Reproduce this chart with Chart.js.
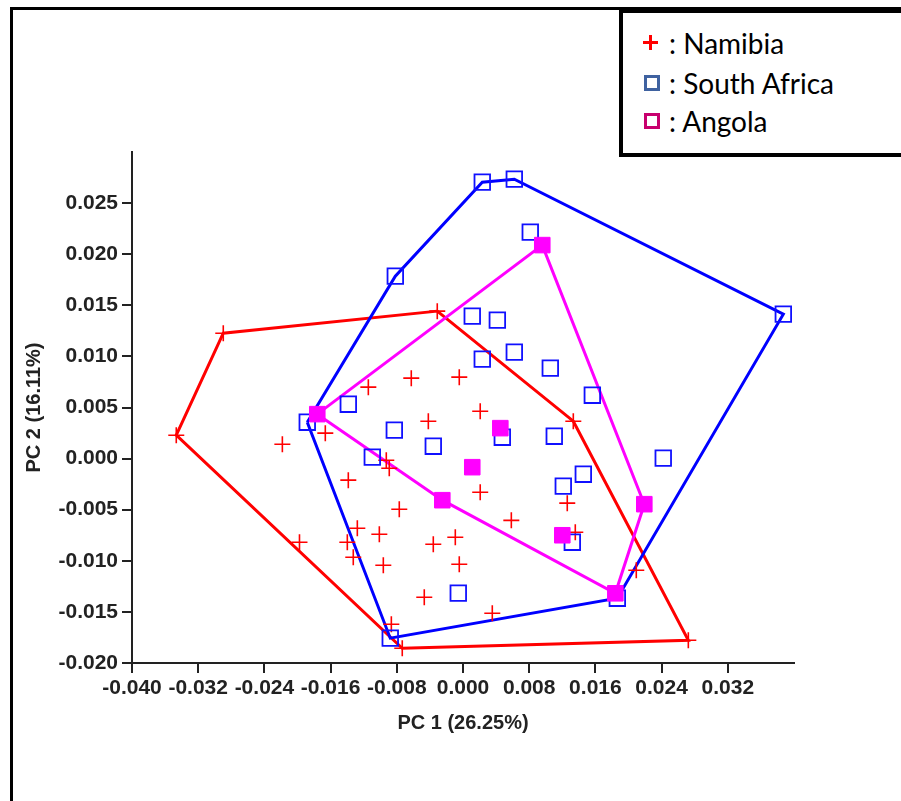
<!DOCTYPE html>
<html>
<head>
    <title>PCA</title>
    <meta charset="utf-8">
    <script src="https://cdn.jsdelivr.net/npm/chart.js@4.4.1/dist/chart.umd.min.js"></script>
    <style>
        body { margin: 0; background: #fff; overflow: hidden; width: 901px; height: 801px; position: relative; }
        #frame { position: absolute; left: 10px; top: 7px; width: 1000px; height: 1000px; border: 3px solid #000; }
        #pca { position: absolute; left: 0; top: 0; z-index: 1; }
        #legend { position: absolute; left: 619px; top: 9px; width: 400px; height: 140px; border: 4px solid #000; background: #fff; z-index: 2; }
        .row { position: absolute; left: 0; height: 40px; line-height: 40px; font-family: Lato, 'Open Sans', sans-serif; font-size: 28px; color: #000; }
        .row span.txt { position: absolute; left: 46px; white-space: nowrap; }
        .plus { position: absolute; left: 20px; top: 12px; width: 15px; height: 15px; }
        .plus:before { content: ''; position: absolute; left: 6px; top: 0; width: 3px; height: 15px; background: #ff0000; }
        .plus:after { content: ''; position: absolute; left: 0; top: 6px; width: 15px; height: 3px; background: #ff0000; }
        .sq { position: absolute; left: 21px; top: 12px; width: 16px; height: 16px; box-sizing: border-box; border: 3px solid #3f62a0; }
    </style>
</head>
<body>
<div id="frame"></div>
<canvas id="pca" width="901" height="801"></canvas>
<div id="legend">
    <div class="row" style="top:10px"><div class="plus"></div><span class="txt">: Namibia</span></div>
    <div class="row" style="top:50px"><div class="sq"></div><span class="txt">: South Africa</span></div>
    <div class="row" style="top:88px"><div class="sq" style="border-color:#c8006e"></div><span class="txt">: Angola</span></div>
</div>

<script>
// PC1 / PC2 scores
var namibiaX = [-0.00311, -0.02897, -0.03465, -0.00734, 0.02723, 0.01333,
    -0.01144, -0.00625, -0.00045, -0.00419, 0.00208, -0.01664, -0.02183, -0.00927,
    -0.00891, -0.01386, 0.00208, -0.00770, -0.01277, -0.01398, -0.01326, -0.01011,
    -0.00963, -0.00359, -0.00093, -0.00045, -0.00468, 0.00354, -0.00866, 0.00584,
    -0.01976, 0.01260, 0.01357, 0.02094];
var namibiaY = [0.01443, 0.01227, 0.00229, -0.01856, -0.01777, 0.00366,
    0.00699, 0.00787, 0.00797, 0.00366, 0.00464, 0.00249, 0.00141, -0.00016,
    -0.00094, -0.00211, -0.00329, -0.00495, -0.00681, -0.00818, -0.00965, -0.00740,
    -0.01044, -0.00838, -0.00769, -0.01034, -0.01357, -0.01513, -0.01621, -0.00604,
    -0.00818, -0.00436, -0.00720, -0.01092];

var southAfricaX = [-0.01882, -0.00818, 0.00233, 0.00620, 0.03871, 0.01865, -0.00879,
    0.00813, 0.00112, 0.00415, 0.00233, 0.00620, 0.01055, 0.01563, 0.00475, 0.01103,
    0.02420, 0.01454, 0.01212, 0.01321, -0.00057, -0.01386, -0.00830, -0.00359, -0.01096];
var southAfricaY = [0.00356, 0.01785, 0.02705, 0.02734, 0.01413, -0.01366, -0.01757,
    0.02216, 0.01394, 0.01355, 0.00974, 0.01042, 0.00885, 0.00620, 0.00209, 0.00219,
    0.00004, -0.00153, -0.00270, -0.00818, -0.01316, 0.00532, 0.00278, 0.00121, 0.00014];

var angolaX = [-0.01761, 0.00958, 0.02191, 0.01841, -0.00250, 0.00451, 0.00112, 0.01200];
var angolaY = [0.00435, 0.02089, -0.00446, -0.01318, -0.00407, 0.00298, -0.00084, -0.00750];

// convex hull vertices (indices into the arrays above)
var namibiaHull = [0, 5, 4, 3, 2, 1, 0];
var southAfricaHull = [0, 1, 2, 3, 4, 5, 6, 0];
var angolaHull = [0, 1, 2, 3, 4, 0];

var xTicks = [-0.040, -0.032, -0.024, -0.016, -0.008, 0.000, 0.008, 0.016, 0.024, 0.032];
var yTicks = [-0.020, -0.015, -0.010, -0.005, 0.000, 0.005, 0.010, 0.015, 0.020, 0.025];

function pts(xs, ys) {
    return xs.map(function (v, i) { return {x: v, y: ys[i]}; });
}
function hull(xs, ys, idx) {
    return idx.map(function (i) { return {x: xs[i], y: ys[i]}; });
}

var tickFont = {family: "'Liberation Sans', Arial, sans-serif", weight: 'bold', size: 21};
var titleFont = {family: "'Liberation Sans', Arial, sans-serif", weight: 'bold', size: 20};

new Chart(document.getElementById('pca'), {
    type: 'scatter',
    data: {
        datasets: [
            {data: pts(angolaX, angolaY), pointStyle: 'rect', pointRadius: 11,
                backgroundColor: '#ff00ff', borderColor: '#ff00ff', borderWidth: 1},
            {data: pts(southAfricaX, southAfricaY), pointStyle: 'rect', pointRadius: 11,
                backgroundColor: 'rgba(0,0,0,0)', borderColor: '#1010ff', borderWidth: 1.8},
            {data: pts(namibiaX, namibiaY), pointStyle: 'cross', pointRadius: 8,
                borderColor: '#ff0000', borderWidth: 1.6},
            {data: hull(angolaX, angolaY, angolaHull), showLine: true, pointRadius: 0,
                borderColor: '#ff00ff', borderWidth: 3, fill: false},
            {data: hull(southAfricaX, southAfricaY, southAfricaHull), showLine: true, pointRadius: 0,
                borderColor: '#0000ff', borderWidth: 3, fill: false},
            {data: hull(namibiaX, namibiaY, namibiaHull), showLine: true, pointRadius: 0,
                borderColor: '#ff0000', borderWidth: 3, fill: false}
        ]
    },
    options: {
        responsive: false,
        animation: false,
        layout: {padding: {left: 0, top: 152, right: 107, bottom: 50}},
        plugins: {legend: {display: false}, tooltip: {enabled: false}},
        scales: {
            x: {
                type: 'linear', min: -0.04, max: 0.04,
                afterBuildTicks: function (s) { s.ticks = xTicks.map(function (v) { return {value: v}; }); },
                afterFit: function (s) { s.height = 88; },
                ticks: {font: tickFont, color: '#222', padding: 3, maxRotation: 0, autoSkip: false,
                    callback: function (v) { return v.toFixed(3); }},
                grid: {drawOnChartArea: false, drawTicks: true, tickLength: 10, color: '#222', lineWidth: 2},
                border: {display: true, color: '#222', width: 2},
                title: {display: true, text: 'PC 1 (26.25%)', font: titleFont, color: '#222', padding: {top: 0, bottom: 16}}
            },
            y: {
                type: 'linear', min: -0.02, max: 0.03,
                afterBuildTicks: function (s) { s.ticks = yTicks.map(function (v) { return {value: v}; }); },
                afterFit: function (s) { s.width = 132; },
                ticks: {font: tickFont, color: '#222', padding: 4, autoSkip: false,
                    callback: function (v) { return v.toFixed(3); }},
                grid: {drawOnChartArea: false, drawTicks: true, tickLength: 10, color: '#222', lineWidth: 2},
                border: {display: true, color: '#222', width: 2},
                title: {display: true, text: 'PC 2 (16.11%)', font: titleFont, color: '#222', padding: {top: 22, bottom: 0}}
            }
        }
    }
});
</script>
</body>
</html>
